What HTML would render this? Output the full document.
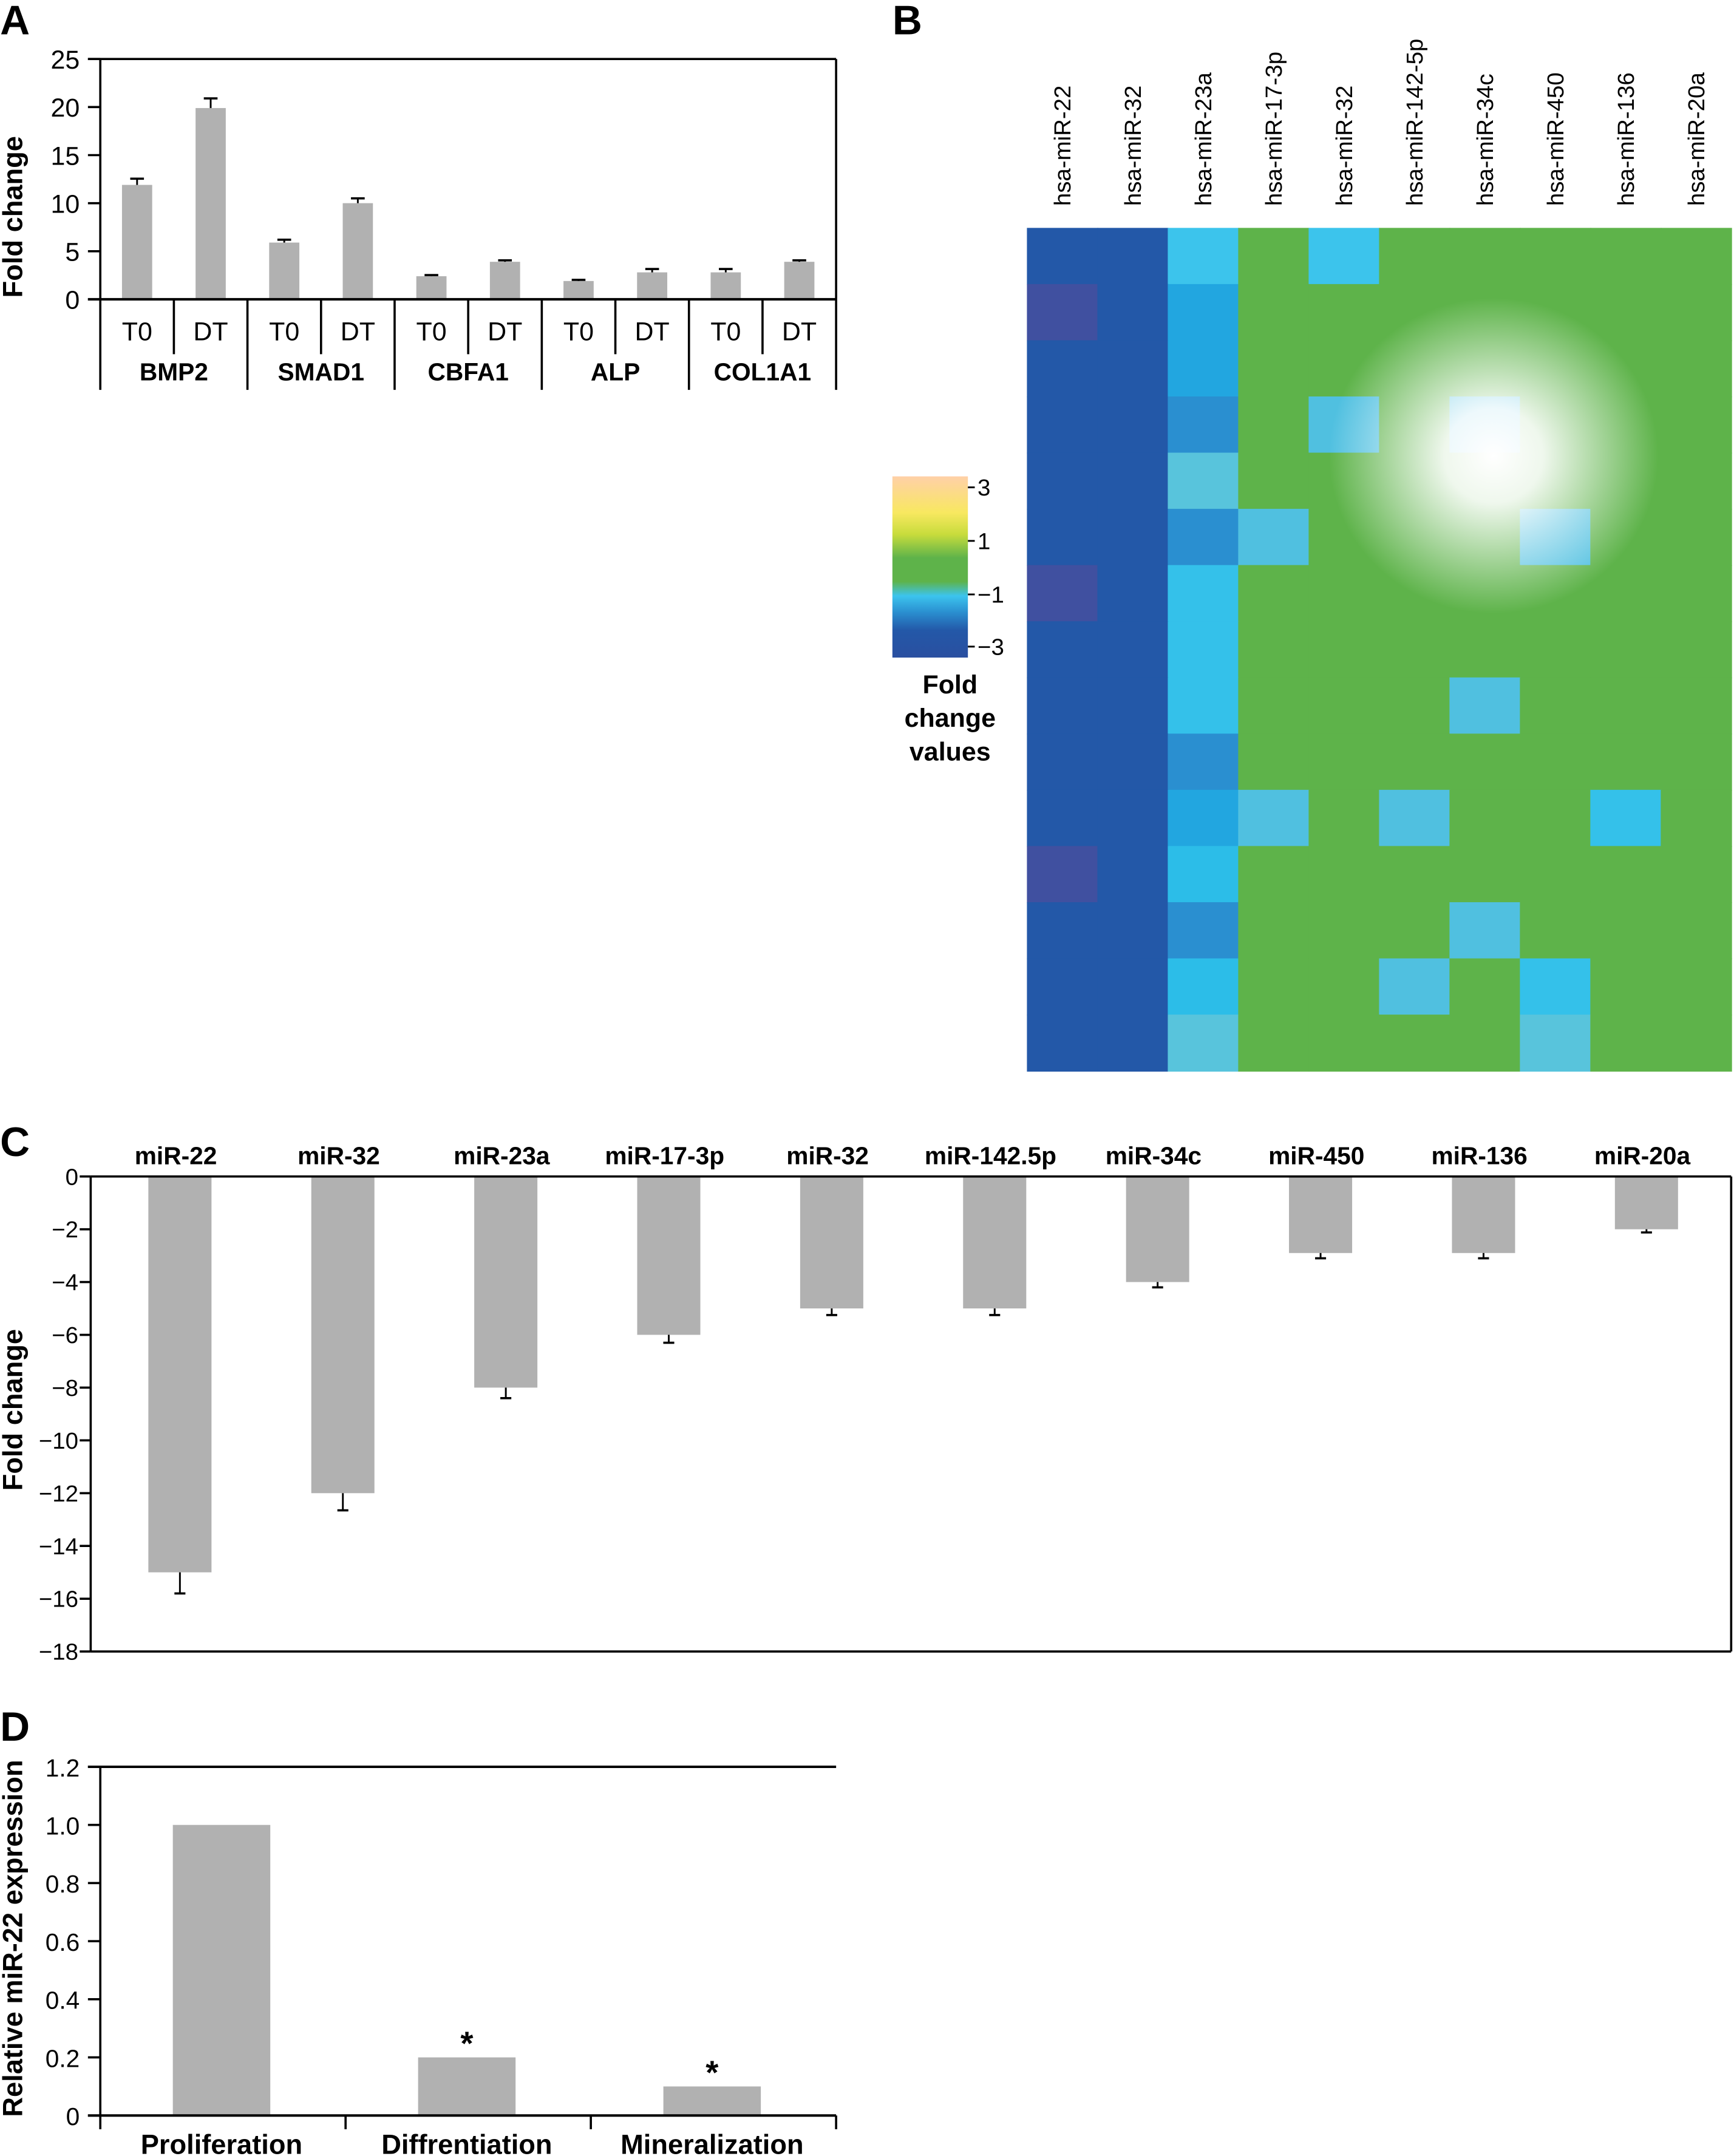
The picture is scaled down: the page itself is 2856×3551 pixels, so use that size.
<!DOCTYPE html>
<html><head><meta charset="utf-8">
<style>
html,body{margin:0;padding:0;background:#fff;}
svg{display:block;}
text{font-family:"Liberation Sans",sans-serif;fill:#000;}
</style></head>
<body>
<svg id="fig" xmlns="http://www.w3.org/2000/svg" width="2856" height="3551" viewBox="0 0 1263 1570.5">
<defs>
<radialGradient id="glow" cx="0.5" cy="0.5" r="0.5">
<stop offset="0" stop-color="#ffffff" stop-opacity="1"/>
<stop offset="0.3" stop-color="#ffffff" stop-opacity="0.9"/>
<stop offset="1" stop-color="#ffffff" stop-opacity="0"/>
</radialGradient>
<linearGradient id="cbar" x1="0" y1="0" x2="0" y2="1">
<stop offset="0" stop-color="#ffd0a8"/>
<stop offset="0.2" stop-color="#f8e860"/>
<stop offset="0.32" stop-color="#c8dc3c"/>
<stop offset="0.45" stop-color="#5eb34a"/>
<stop offset="0.58" stop-color="#5eb34a"/>
<stop offset="0.66" stop-color="#3cc4ee"/>
<stop offset="0.75" stop-color="#2a8fd0"/>
<stop offset="0.85" stop-color="#2358a8"/>
<stop offset="1" stop-color="#2a4fa0"/>
</linearGradient>
</defs>
<g id="root"></g>
</svg>
<script>
// ---------- Panel A data ----------
const genesA = ["BMP2","SMAD1","CBFA1","ALP","COL1A1"];
const condsA = ["T0","DT"];
const valsT0 = [11.9, 5.9, 2.4, 1.9, 2.8];
const valsDT = [19.9, 10.0, 3.9, 2.8, 3.9];
const errT0 = [0.65, 0.3, 0.12, 0.12, 0.35];
const errDT = [1.0, 0.5, 0.15, 0.35, 0.15];
const ticksA = [0,5,10,15,20,25];
// ---------- Panel B data ----------
const hmCols = ["hsa-miR-22","hsa-miR-32","hsa-miR-23a","hsa-miR-17-3p","hsa-miR-32","hsa-miR-142-5p","hsa-miR-34c","hsa-miR-450","hsa-miR-136","hsa-miR-20a"];
const hmRows = [
 [-3,-3,-1.8,0,-1.8,0,0,0,0,0],
 [-3.2,-3,-2.2,0,0,0,0,0,0,0],
 [-3,-3,-2.2,0,0,0,0,0,0,0],
 [-3,-3,-2.5,0,-1.7,0,-1.7,0,0,0],
 [-3,-3,-1.6,0,0,0,0,0,0,0],
 [-3,-3,-2.5,-1.7,0,0,0,-1.7,0,0],
 [-3.2,-3,-1.9,0,0,0,0,0,0,0],
 [-3,-3,-1.9,0,0,0,0,0,0,0],
 [-3,-3,-1.9,0,0,0,-1.7,0,0,0],
 [-3,-3,-2.5,0,0,0,0,0,0,0],
 [-3,-3,-2.2,-1.7,0,-1.7,0,0,-1.9,0],
 [-3.2,-3,-2.0,0,0,0,0,0,0,0],
 [-3,-3,-2.5,0,0,0,-1.7,0,0,0],
 [-3,-3,-2.0,0,0,-1.7,0,-1.9,0,0],
 [-3,-3,-1.6,0,0,0,0,-1.6,0,0]
];
const cbTicks = ["3","1","\u22121","\u22123"];
// ---------- Panel C data ----------
const catsC = ["miR-22","miR-32","miR-23a","miR-17-3p","miR-32","miR-142.5p","miR-34c","miR-450","miR-136","miR-20a"];
const valsC = [-15,-12,-8,-6,-5,-5,-4,-2.9,-2.9,-2];
const errC = [0.8,0.65,0.4,0.3,0.25,0.25,0.2,0.2,0.2,0.12];
const ticksC = [0,-2,-4,-6,-8,-10,-12,-14,-16,-18];
// ---------- Panel D data ----------
const catsD = ["Proliferation","Diffrentiation","Mineralization"];
const valsD = [1.0, 0.2, 0.1];
const sigD = [false, true, true];
const ticksD = [0,0.2,0.4,0.6,0.8,1.0,1.2];

const NS="http://www.w3.org/2000/svg";
const root=document.getElementById('root');
function mk(tag,attrs,parent,txt){const e=document.createElementNS(NS,tag);for(const k in attrs)e.setAttribute(k,attrs[k]);if(txt!==undefined)e.textContent=txt;(parent||root).appendChild(e);return e;}
function line(x1,y1,x2,y2,w,p){return mk('line',{x1,y1,x2,y2,stroke:'#000','stroke-width':w||1.6},p);}
const GRAY="#b1b1b1";

[["A",0,25],["B",650,25],["C",0,842],["D",0,1268]].forEach(([t,x,y])=>{
 const e=mk('text',{x:x,y:y,'font-size':30,'font-weight':'bold'},root,t);
 
 
});

// ---------- Panel A ----------
(function(){
 const g=mk('g',{});
 
 
 const L=73,R=609,T=43,B=218,ymax=25;
 const y=v=>B-(v/ymax)*(B-T);
 const slot=(R-L)/(genesA.length*2);
 const xc=(gi,ci)=>L+slot*(gi*2+ci+0.5);
 const bw=22;
 genesA.forEach((gname,gi)=>{
  [valsT0,valsDT].forEach((arr,ci)=>{
   const v=arr[gi],e=(ci?errDT:errT0)[gi],cx=xc(gi,ci);
   const r=mk('rect',{x:cx-bw/2,y:y(v),width:bw,height:B-y(v),fill:GRAY},g);
   
   
   line(cx,y(v),cx,y(v+e),1.3,g);line(cx-5,y(v+e),cx+5,y(v+e),1.6,g);
   const t=mk('text',{x:cx,y:248,'font-size':19,'text-anchor':'middle'},g,condsA[ci]);
   
   
   if(ci===1) line(L+slot*(gi*2+1),B,L+slot*(gi*2+1),258,1.6,g);
  });
  const gl=mk('text',{x:L+slot*(gi*2+1),y:277,'font-size':18,'font-weight':'bold','text-anchor':'middle'},g,gname);
  
  
  line(L+slot*gi*2,B,L+slot*gi*2,284,1.6,g);
 });
 line(L+slot*10,B,L+slot*10,284,1.6,g);
 line(L,T,L,B,1.6,g);line(64,T,R,T,1.6,g);line(R,T,R,B,1.6,g);line(64,B,R,B,1.8,g);
 ticksA.forEach(v=>{line(64,y(v),L,y(v),1.6,g);
  const t=mk('text',{x:58,y:y(v)+7,'font-size':19,'text-anchor':'end'},g,String(v));
  
  });
 const yl=mk('text',{x:0,y:0,'font-size':20,'font-weight':'bold','text-anchor':'middle',transform:'translate(16,158) rotate(-90)'},g,'Fold change');
 
 
})();

// ---------- Panel B heatmap ----------
(function(){
 const g=mk('g',{});
 
 
 const X0=748,X1=1261,Y0=166,Y1=780;
 const cw=(X1-X0)/hmCols.length, ch=(Y1-Y0)/hmRows.length;
 const stops=[[-3.2,[64,80,160]],[-3,[35,88,168]],[-2.5,[42,143,208]],[-2.2,[34,166,224]],[-2.0,[44,189,232]],[-1.8,[60,196,236]],[-1.7,[80,192,224]],[-1.6,[88,196,220]],[-1.0,[80,185,150]],[0,[94,179,74]]];
 function col(v){
  if(v<=stops[0][0])return 'rgb('+stops[0][1]+')';
  for(let i=1;i<stops.length;i++){if(v<=stops[i][0]){const a=stops[i-1],b=stops[i],t=(v-a[0])/(b[0]-a[0]);
   return 'rgb('+a[1].map((c,k)=>Math.round(c+(b[1][k]-c)*t)).join(',')+')';}}
  return 'rgb('+stops[stops.length-1][1]+')';}
 hmRows.forEach((row,ri)=>row.forEach((v,ci)=>{
  const r=mk('rect',{x:X0+ci*cw,y:Y0+ri*ch,width:cw+0.6,height:ch+0.6,fill:col(v)},g);
  
  
 }));
 const gl=mk('ellipse',{cx:1088,cy:332,rx:120,ry:115,fill:'url(#glow)'},g);
 
 
 hmCols.forEach((n,ci)=>{
  const cx=X0+cw*(ci+0.5)+6;
  const t=mk('text',{x:0,y:0,'font-size':17,'text-anchor':'start',transform:'translate('+cx+',150) rotate(-90)'},g,n);
  
  
 });
 const cb=mk('rect',{x:650,y:347,width:55,height:132,fill:'url(#cbar)'},g);
 
 
 const cy=[355,394,433,471];
 cbTicks.forEach((t,i)=>{line(705,cy[i],710,cy[i],1.3,g);
  const e=mk('text',{x:712,y:cy[i]+6,'font-size':17},g,t);
  
  });
 ["Fold","change","values"].forEach((w,i)=>{
  const e=mk('text',{x:692,y:505+i*24.5,'font-size':19,'font-weight':'bold','text-anchor':'middle'},g,w);
  
  });
})();

// ---------- Panel C ----------
(function(){
 const g=mk('g',{});
 
 
 const L=66,R=1261,T=857,B=1203,ymin=-18;
 const y=v=>T+(v/ymin)*(B-T);
 const step=118.7,first=131,bw=46;
 catsC.forEach((c,i)=>{
  const cx=first+i*step,v=valsC[i],e=errC[i];
  const r=mk('rect',{x:cx-bw/2,y:T,width:bw,height:y(v)-T,fill:GRAY},g);
  
  
  line(cx,y(v),cx,y(v-e),1.3,g);line(cx-4,y(v-e),cx+4,y(v-e),1.6,g);
  const t=mk('text',{x:cx-3,y:848,'font-size':18,'font-weight':'bold','text-anchor':'middle'},g,c);
  
  
 });
 line(L,T,R,T,1.6,g);line(L,T,L,B,1.6,g);line(R,T,R,B,1.6,g);line(L,B,R,B,1.6,g);
 ticksC.forEach(v=>{line(58,y(v),L,y(v),1.6,g);
  const t=mk('text',{x:57,y:y(v)+6,'font-size':17,'text-anchor':'end'},g,v===0?'0':'\u2212'+Math.abs(v));
  
  });
 const yl=mk('text',{x:0,y:0,'font-size':20,'font-weight':'bold','text-anchor':'middle',transform:'translate(16,1027) rotate(-90)'},g,'Fold change');
 
 
})();

// ---------- Panel D ----------
(function(){
 const g=mk('g',{});
 
 
 const L=73,R=609,T=1287,B=1541,ymax=1.2;
 const y=v=>B-(v/ymax)*(B-T);
 const slot=(R-L)/catsD.length,bw=71;
 catsD.forEach((c,i)=>{
  const cx=L+slot*(i+0.5)-1,v=valsD[i];
  const r=mk('rect',{x:cx-bw/2,y:y(v),width:bw,height:B-y(v),fill:GRAY},g);
  
  
  if(sigD[i]){const s=mk('text',{x:cx,y:y(v)-2,'font-size':24,'font-weight':'bold','text-anchor':'middle'},g,'*');
   
   }
  const t=mk('text',{x:cx,y:1569,'font-size':20,'font-weight':'bold','text-anchor':'middle'},g,c);
  
  
 });
 for(let i=0;i<=catsD.length;i++)line(L+slot*i,B,L+slot*i,1551,1.6,g);
 line(L,T,L,B,1.6,g);line(64,T,R,T,1.8,g);line(64,B,R,B,1.8,g);
 ticksD.forEach(v=>{line(64,y(v),L,y(v),1.6,g);
  const t=mk('text',{x:58,y:y(v)+7,'font-size':18,'text-anchor':'end'},g,v===0?'0':v.toFixed(1));
  
  });
 const yl=mk('text',{x:0,y:0,'font-size':20,'font-weight':'bold','text-anchor':'middle',transform:'translate(16,1412) rotate(-90)'},g,'Relative miR-22 expression');
 
 
})();
</script>
</body></html>
